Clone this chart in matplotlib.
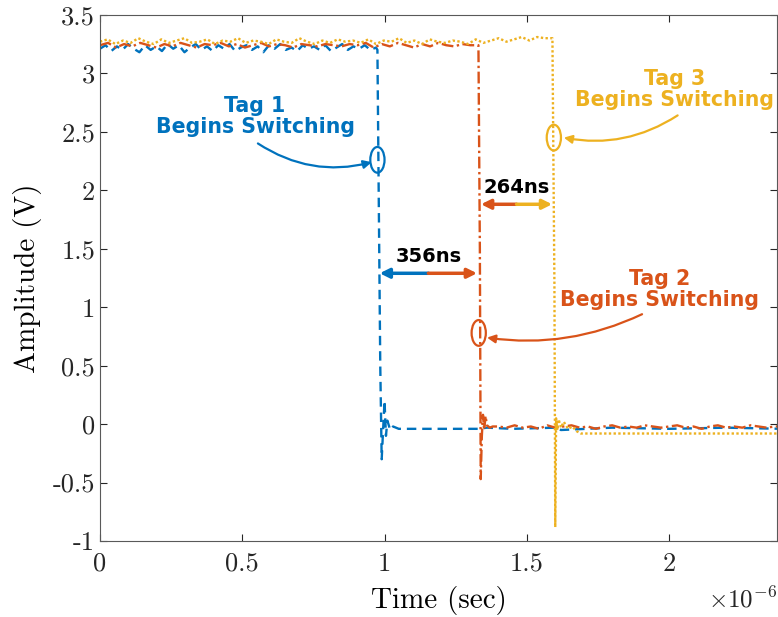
import numpy as np
from matplotlib import pyplot as plt
from matplotlib.patches import Ellipse

plt.rcParams['font.family'] = 'serif'
plt.rcParams['font.serif'] = ['cmr10']
plt.rcParams['mathtext.fontset'] = 'cm'
plt.rcParams['axes.unicode_minus'] = False

BLUE = '#0072BD'
ORANGE = '#D95319'
YELLOW = '#EDB120'

# time in microseconds, amplitude in volts
v_blue_hi = [
    3.21, 3.24, 3.19, 3.23, 3.20, 3.25, 3.21, 3.18, 3.24, 3.20, 3.23, 3.19, 3.25,
    3.21, 3.24, 3.18, 3.22, 3.25, 3.20, 3.23, 3.19, 3.24, 3.21, 3.25, 3.19, 3.22,
    3.24, 3.20, 3.23, 3.18, 3.24, 3.21, 3.25, 3.20, 3.22, 3.19, 3.24, 3.21, 3.23,
    3.20, 3.24, 3.19, 3.22, 3.25, 3.20, 3.23, 3.21, 3.24, 3.20, 3.22,
]
t_blue = np.concatenate([
    np.linspace(0, 0.97, len(v_blue_hi)),
    [0.975, 0.985, 0.99, 0.995, 1.0, 1.005, 1.01, 1.02, 1.03, 1.05],
    [1.33, 1.36, 1.45, 1.6, 1.62, 1.8, 2.0, 2.2, 2.4],
])
v_blue = np.concatenate([v_blue_hi, [
    3.20, 0.50, -0.30, -0.05, 0.20, -0.10, 0.03, -0.05, -0.02, -0.04,
    -0.04, -0.03, -0.04, -0.03, -0.05, -0.03, -0.04, -0.03, -0.04,
]])

v_orange_hi = [
    3.24, 3.26, 3.22, 3.25, 3.23, 3.26, 3.24, 3.22, 3.25, 3.23, 3.26, 3.24,
    3.22, 3.25, 3.24, 3.26, 3.23, 3.25, 3.22, 3.24, 3.26, 3.23, 3.25, 3.24,
    3.22, 3.25, 3.24, 3.23, 3.25, 3.24, 3.23, 3.25, 3.24, 3.26, 3.22, 3.25,
    3.23, 3.26, 3.24, 3.22, 3.25, 3.23, 3.26, 3.24, 3.23, 3.25, 3.24, 3.24,
]
v_orange_lo = [
    -0.02, -0.03, -0.01, -0.03, -0.02, -0.04, -0.01, -0.03, -0.02, -0.01,
    -0.03, -0.02, -0.04, -0.02, -0.01, -0.03, -0.02, -0.03, -0.01, -0.02,
    -0.03, -0.02, -0.01, -0.03, -0.02, -0.04, -0.02, -0.01, -0.03, -0.02,
    -0.03, -0.01, -0.02, -0.03, -0.02, -0.02,
]
t_orange = np.concatenate([
    np.linspace(0, 1.33, len(v_orange_hi)),
    [1.335, 1.338, 1.342, 1.346, 1.35, 1.355, 1.36, 1.37, 1.38],
    np.linspace(1.40, 2.40, len(v_orange_lo)),
])
v_orange = np.concatenate([v_orange_hi,
                           [1.50, -0.47, -0.10, 0.08, -0.05, 0.07, -0.01, -0.03, -0.02],
                           v_orange_lo])

v_yellow_hi = [
    3.27, 3.29, 3.25, 3.28, 3.26, 3.30, 3.27, 3.25, 3.29, 3.26, 3.28, 3.30,
    3.26, 3.27, 3.29, 3.25, 3.28, 3.27, 3.30, 3.26, 3.28, 3.27, 3.25, 3.29,
    3.27, 3.26, 3.30, 3.27, 3.25, 3.28, 3.26, 3.29, 3.27, 3.28, 3.26, 3.29,
    3.25, 3.28, 3.27, 3.30, 3.26, 3.28, 3.25, 3.29, 3.27, 3.26, 3.28, 3.27,
    3.25, 3.29, 3.26, 3.28, 3.30, 3.27, 3.29, 3.31, 3.28, 3.31, 3.30, 3.30,
]
t_yellow = np.concatenate([
    np.linspace(0, 1.59, len(v_yellow_hi)),
    [1.597, 1.600, 1.603, 1.607, 1.612, 1.62, 1.63, 1.645, 1.66, 1.675, 1.69],
    [1.80, 2.00, 2.20, 2.40],
])
v_yellow = np.concatenate([v_yellow_hi, [
    1.20, -0.88, 0.05, -0.05, 0.04, -0.03, 0.02, -0.04, -0.02, -0.06, -0.08,
    -0.08, -0.08, -0.08, -0.08,
]])

t_switch = [0.975, 1.331, 1.595]
ellipse_y = [2.26, 0.78, 2.45]
delays = ['356ns', '264ns']
xticks = [0, 0.5, 1, 1.5, 2]
xtick_labels = ['0', '0.5', '1', '1.5', '2']
yticks = [-1, -0.5, 0, 0.5, 1, 1.5, 2, 2.5, 3, 3.5]
ytick_labels = ['-1', '-0.5', '0', '0.5', '1', '1.5', '2', '2.5', '3', '3.5']

fig = plt.figure(figsize=(7.78, 6.17), dpi=100)
ax = fig.add_axes([0.1285, 0.123, 0.8705, 0.853])

ax.plot(t_blue * 1e-6, v_blue, color=BLUE, ls=(0, (4, 2.5)), lw=1.7)
ax.plot(t_orange * 1e-6, v_orange, color=ORANGE, ls=(0, (5, 1.5, 1, 1.5)), lw=1.7)
ax.plot(t_yellow * 1e-6, v_yellow, color=YELLOW, ls=(0, (1, 1)), lw=1.7)

ax.set_xlim(0, 2.38e-6)
ax.set_ylim(-1, 3.5)
ax.set_xticks(np.array(xticks) * 1e-6)
ax.set_xticklabels(xtick_labels)
ax.set_yticks(yticks)
ax.set_yticklabels(ytick_labels)
ax.tick_params(direction='in', top=True, right=True, labelsize=19, length=5, colors='0.15')
ax.tick_params(axis='x', pad=8)
for s in ax.spines.values():
    s.set_color('0.35')
ax.text(1.0, -0.112, r'$\times10^{-6}$', transform=ax.transAxes, ha='right', va='center',
        fontsize=18, color='0.15')
ax.set_xlabel('Time (sec)', fontsize=21, labelpad=7)
ax.set_ylabel('Amplitude (V)', fontsize=21, labelpad=8)

colors = [BLUE, ORANGE, YELLOW]
for t, y, c in zip(t_switch, ellipse_y, colors):
    ax.add_patch(Ellipse((t * 1e-6, y), 0.05e-6, 0.22, fill=False, ec=c, lw=1.6, zorder=5))

tfont = dict(fontfamily='DejaVu Sans', fontweight='bold', fontsize=14.8, ha='center',
             va='center', linespacing=1.1)
ax.text(0.545e-6, 2.63, 'Tag 1\nBegins Switching', color=BLUE, **tfont)
ax.text(1.965e-6, 1.15, 'Tag 2\nBegins Switching', color=ORANGE, **tfont)
ax.text(2.02e-6, 2.86, 'Tag 3\nBegins Switching', color=YELLOW, **tfont)

ax.annotate('', xy=(0.955e-6, 2.24), xytext=(0.555e-6, 2.40),
            arrowprops=dict(arrowstyle='-|>', color=BLUE, lw=1.6, mutation_scale=12,
                            connectionstyle='arc3,rad=0.22', shrinkA=0, shrinkB=0))
ax.annotate('', xy=(1.36e-6, 0.74), xytext=(1.905e-6, 0.94),
            arrowprops=dict(arrowstyle='-|>', color=ORANGE, lw=1.6, mutation_scale=12,
                            connectionstyle='arc3,rad=-0.15', shrinkA=0, shrinkB=0))
ax.annotate('', xy=(1.63e-6, 2.45), xytext=(2.03e-6, 2.64),
            arrowprops=dict(arrowstyle='-|>', color=YELLOW, lw=1.6, mutation_scale=12,
                            connectionstyle='arc3,rad=-0.2', shrinkA=0, shrinkB=0))

# two-coloured delay arrows
for (a, b, y, lab, ca, cb) in [(t_switch[0], t_switch[1], 1.29, delays[0], BLUE, ORANGE),
                                (t_switch[1], t_switch[2], 1.88, delays[1], ORANGE, YELLOW)]:
    a = (a + 0.008) * 1e-6
    b = (b - 0.006) * 1e-6
    m = (a + b) / 2
    ax.annotate('', xy=(a, y), xytext=(m, y),
                arrowprops=dict(arrowstyle='-|>', color=ca, lw=2.5, mutation_scale=14,
                                shrinkA=0, shrinkB=0))
    ax.annotate('', xy=(b, y), xytext=(m, y),
                arrowprops=dict(arrowstyle='-|>', color=cb, lw=2.5, mutation_scale=14,
                                shrinkA=0, shrinkB=0))
    ax.text(m, y + 0.14, lab, color='black', fontfamily='DejaVu Sans', fontweight='bold',
            fontsize=14, ha='center', va='center')

fig.savefig('out.png', dpi=100)
